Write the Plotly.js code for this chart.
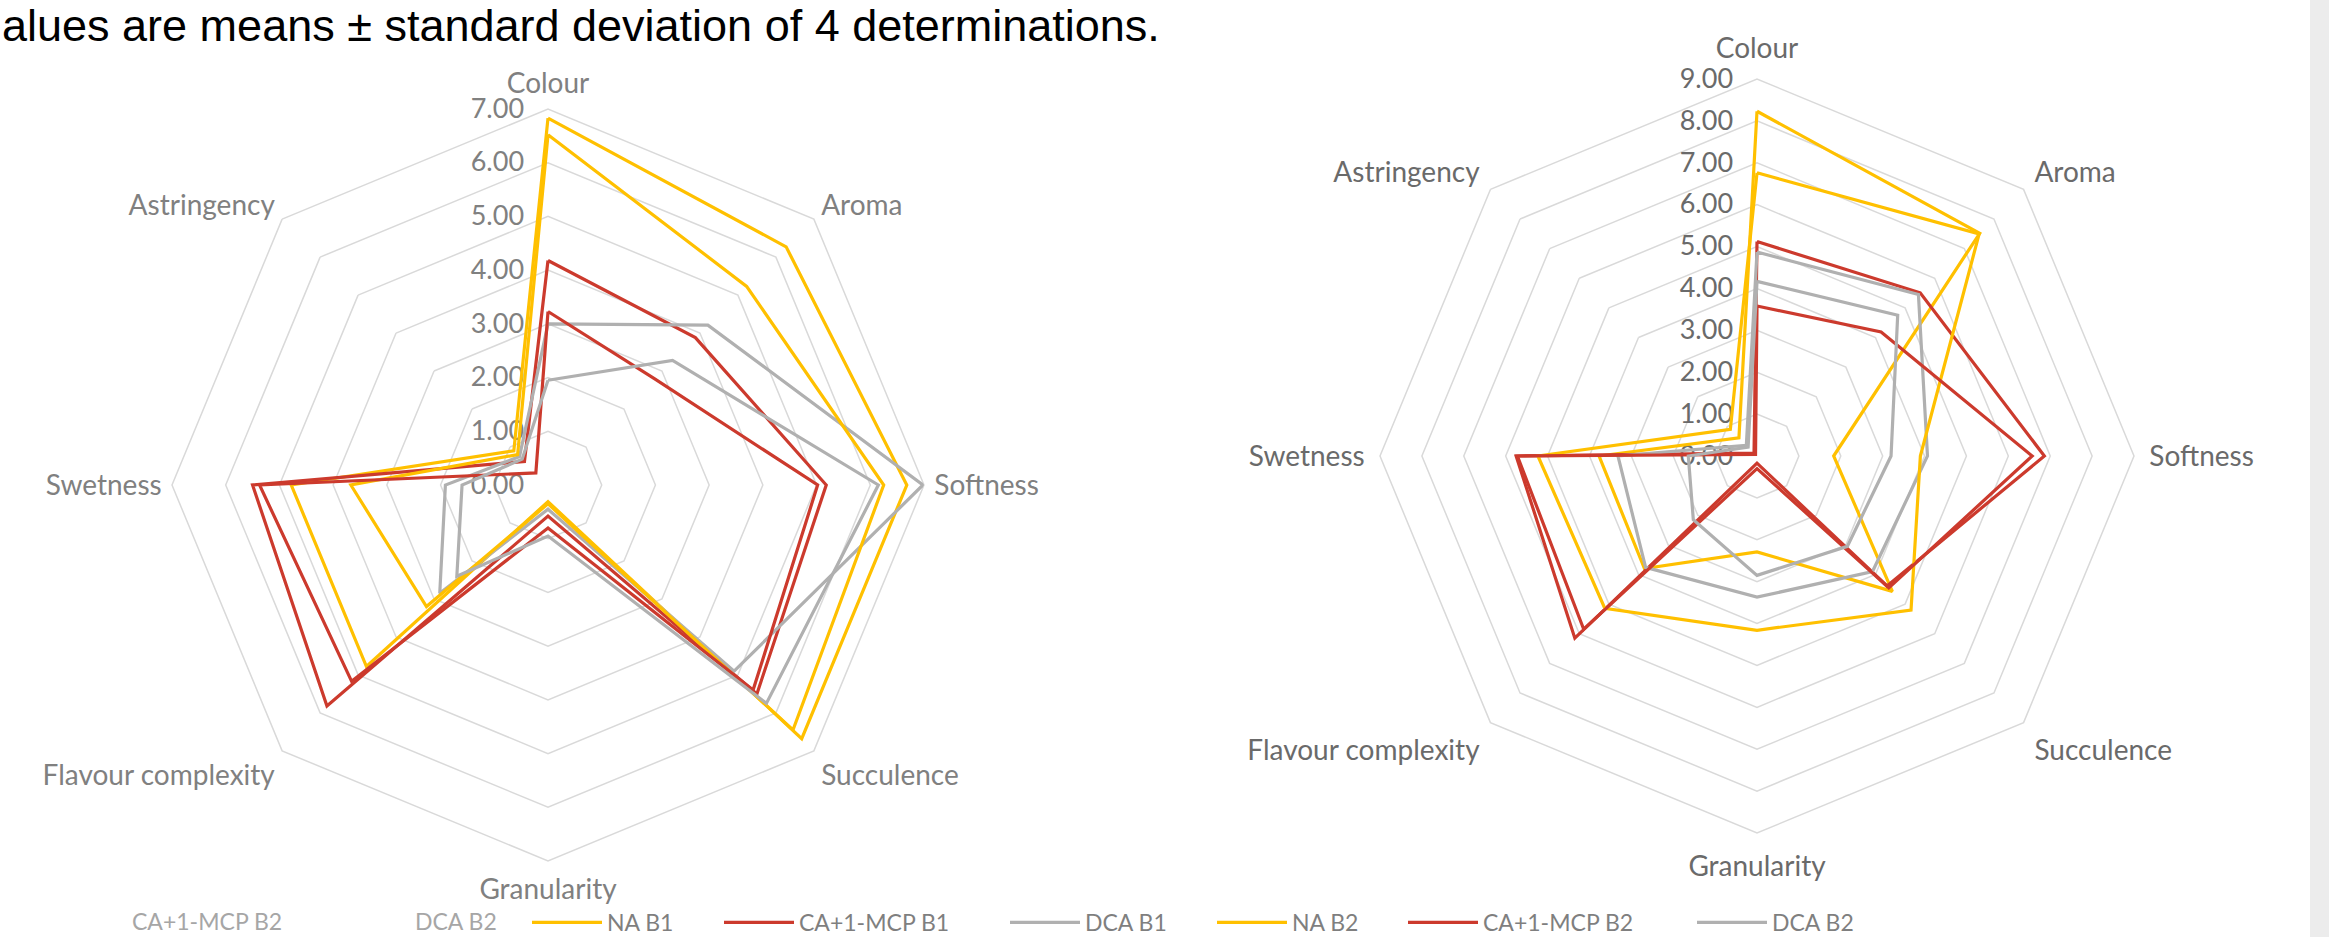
<!DOCTYPE html>
<html>
<head>
<meta charset="utf-8">
<script src="https://cdn.plot.ly/plotly-3.0.1.min.js"></script>
<style>
html, body { margin: 0; padding: 0; background: #ffffff; overflow: hidden; }
#chart { width: 2329px; height: 937px; }
</style>
</head>
<body>
<div id="chart"></div>
<script>
// ---------------- DATA ----------------
const categories = ['Colour', 'Aroma', 'Softness', 'Succulence', 'Granularity', 'Flavour complexity', 'Swetness', 'Astringency'];
const seriesNames = ['NA B1', 'CA+1-MCP B1', 'DCA B1', 'NA B2', 'CA+1-MCP B2', 'DCA B2'];
const seriesColors = ['#FFC000', '#CC3A2D', '#B0B0B0', '#FFC000', '#CC3A2D', '#B0B0B0'];

// Left radar (scale 0-7)
const leftNA_B1  = [6.83, 6.27, 6.68, 6.68, 0.31, 4.78, 4.78, 0.90];
const leftCA_B1  = [4.18, 3.88, 5.18, 5.50, 0.58, 5.82, 5.50, 0.62];
const leftDCA_B1 = [3.00, 4.21, 6.98, 4.90, 0.45, 2.85, 1.91, 0.75];
const leftNA_B2  = [6.52, 5.23, 6.25, 6.45, 0.35, 3.20, 3.67, 0.80];
const leftCA_B2  = [3.23, 2.80, 5.02, 5.40, 0.80, 5.17, 5.37, 0.32];
const leftDCA_B2 = [1.95, 3.28, 6.15, 5.75, 0.95, 2.40, 1.60, 0.68];

// Right radar (scale 0-9)
const rightNA_B1  = [8.23, 7.52, 1.83, 4.57, 2.29, 3.80, 3.77, 0.61];
const rightCA_B1  = [5.12, 5.51, 6.86, 4.39, 0.17, 6.15, 5.75, 0.10];
const rightDCA_B1 = [4.87, 5.45, 4.07, 3.90, 3.37, 3.76, 3.32, 0.36];
const rightNA_B2  = [6.76, 7.50, 3.90, 5.20, 4.16, 5.14, 5.23, 0.90];
const rightCA_B2  = [3.58, 4.19, 6.57, 4.45, 0.30, 5.85, 5.72, 0.05];
const rightDCA_B2 = [4.17, 4.75, 3.20, 3.05, 2.85, 2.15, 1.64, 0.30];

const leftMax = 7;
const rightMax = 9;
const headerText = 'alues are means \u00B1 standard deviation of 4 determinations.';
const leftLegendFragments = ['CA+1-MCP B2', 'DCA B2'];

// ---------------- BUILD ----------------
const leftSeries = [leftNA_B1, leftCA_B1, leftDCA_B1, leftNA_B2, leftCA_B2, leftDCA_B2];
const rightSeries = [rightNA_B1, rightCA_B1, rightDCA_B1, rightNA_B2, rightCA_B2, rightDCA_B2];

function closeLoop(arr) { return arr.concat([arr[0]]); }

const W = 2329, H = 937;
const FONT = 'Lato, "Open Sans", sans-serif';

// each legend entry of the right chart has its own legend box so it sits where the reference has it
const legendTextStarts = [607, 799, 1085, 1292, 1483, 1772];
const ITEMW = 70;
const legendIds = ['legend', 'legend2', 'legend3', 'legend4', 'legend5', 'legend6'];

const traces = [];
leftSeries.forEach((vals, i) => {
  traces.push({
    type: 'scatterpolar', mode: 'lines', subplot: 'polar',
    r: closeLoop(vals), theta: closeLoop(categories),
    name: seriesNames[i], showlegend: false,
    line: { color: seriesColors[i], width: 3.2 }
  });
});
rightSeries.forEach((vals, i) => {
  traces.push({
    type: 'scatterpolar', mode: 'lines', subplot: 'polar2',
    r: closeLoop(vals), theta: closeLoop(categories),
    name: seriesNames[i], showlegend: true, legend: legendIds[i],
    line: { color: seriesColors[i], width: 3.2 }
  });
});

function polarLayout(cx, cy, R, maxVal, labelColor, labelPad) {
  return {
    domain: { x: [(cx - R) / W, (cx + R) / W], y: [1 - (cy + R) / H, 1 - (cy - R) / H] },
    gridshape: 'linear',
    bgcolor: 'rgba(0,0,0,0)',
    radialaxis: {
      range: [0, maxVal], tick0: 0, dtick: 1, tickformat: '.2f',
      angle: 90, side: 'counterclockwise', tickangle: 90,
      showline: false, showgrid: true, gridcolor: '#D9D9D9', gridwidth: 1.5,
      ticks: 'outside', ticklen: 14, tickcolor: 'rgba(0,0,0,0)',
      tickfont: { family: FONT, size: 27, color: labelColor },
      layer: 'below traces'
    },
    angularaxis: {
      rotation: 90, direction: 'clockwise',
      showgrid: false, showline: true, linecolor: '#D9D9D9', linewidth: 1.5,
      ticks: 'outside', ticklen: labelPad, tickcolor: 'rgba(0,0,0,0)',
      tickfont: { family: FONT, size: 28, color: labelColor },
      layer: 'below traces'
    }
  };
}

const layout = {
  width: W, height: H,
  margin: { l: 0, r: 0, t: 0, b: 0, autoexpand: false },
  paper_bgcolor: '#ffffff',
  showlegend: true,
  polar: polarLayout(548, 485, 376, leftMax, '#808080', 4),
  polar2: polarLayout(1757, 456, 377, rightMax, '#6A6A6A', 9),
  shapes: [{
    type: 'rect', xref: 'paper', yref: 'paper', x0: 2310 / W, x1: 1, y0: 0, y1: 1,
    fillcolor: '#ECECEC', line: { width: 0 }, layer: 'below'
  }],
  annotations: [
    {
      xref: 'paper', yref: 'paper', x: 0, y: 1, xanchor: 'left', yanchor: 'top',
      text: headerText, showarrow: false, yshift: 2,
      font: { family: '"Liberation Sans", Arial, sans-serif', size: 45, color: '#000000' }
    },
    {
      xref: 'paper', yref: 'paper', x: 130 / W, y: 0, xanchor: 'left', yanchor: 'bottom',
      text: leftLegendFragments[0], showarrow: false,
      font: { family: FONT, size: 23, color: '#A6A6A6' }
    },
    {
      xref: 'paper', yref: 'paper', x: 413 / W, y: 0, xanchor: 'left', yanchor: 'bottom',
      text: leftLegendFragments[1], showarrow: false,
      font: { family: FONT, size: 23, color: '#A6A6A6' }
    }
  ]
};

legendIds.forEach((id, i) => {
  layout[id] = {
    orientation: 'h', x: (legendTextStarts[i] - ITEMW - 10) / W, xanchor: 'left',
    y: -7 / H, yanchor: 'bottom',
    font: { family: FONT, size: 23, color: '#7F7F7F' },
    bgcolor: 'rgba(0,0,0,0)', itemwidth: ITEMW
  };
});

Plotly.newPlot('chart', traces, layout, { displayModeBar: false, staticPlot: true });
</script>
</body>
</html>
